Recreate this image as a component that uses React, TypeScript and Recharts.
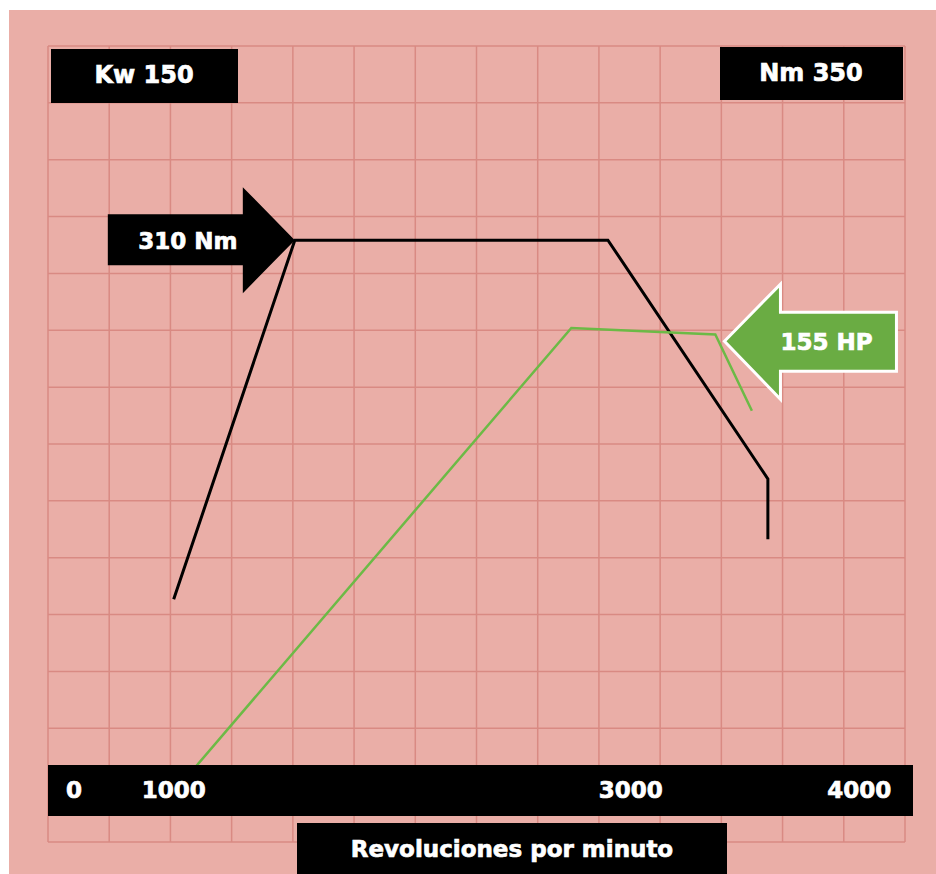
import React from 'react';
import {
  LineChart,
  Line,
  XAxis,
  YAxis,
  CartesianGrid,
  ReferenceDot,
} from 'recharts';

// axis ranges (rpm along the bottom, torque and power up the sides)
const rpmDomain = [450, 4200];
const torqueDomain = [0, 410];
const powerDomain = [0, 240];

// torque curve (Nm)
const torqueRpm = [1000, 1530, 2900, 3600, 3600];
const torqueNm = [125, 310, 310, 187, 156];

// power curve (HP)
const powerRpm = [1100, 2740, 3370, 3530];
const powerHp = [23, 155, 153, 130];

const rpmTicks = [1000, 3000, 4000];
const zeroLabel = '0';
const peakTorque = { rpm: 1530, value: 310, label: '310 Nm' };
const peakPower = { rpm: 3410, value: 151, label: '155 HP' };

const torqueData = torqueRpm.map((rpm, i) => ({ rpm, torque: torqueNm[i] }));
const powerData = powerRpm.map((rpm, i) => ({ rpm, power: powerHp[i] }));

const FONT = '"DejaVu Sans", Verdana, sans-serif';
const PINK = '#eaaea7';
const GRID = '#d98a83';

const W = 936;
const H = 874;
const AXIS_H = 30;
const margin = { top: 46, right: 31, bottom: 32 - AXIS_H, left: 48 };

const txt = {
  fill: '#fff',
  fontFamily: FONT,
  fontWeight: 'bold' as const,
  fontSize: 23,
  stroke: '#fff',
  strokeWidth: 0.7,
  textAnchor: 'middle' as const,
};

// the black band behind the rpm labels is drawn with the first tick,
// so the labels land on top of it
const RpmTick = (props: any) => (
  <g>
    {props.index === 0 && (
      <g>
        <rect x={48} y={765} width={865} height={51} fill="#000" />
        <text x={74} y={798} {...txt}>{zeroLabel}</text>
      </g>
    )}
    <text x={props.x} y={798} {...txt}>
      {props.payload.value}
    </text>
  </g>
);

// black arrow pointing right, tip on the torque peak
const TorqueArrow = ({ cx, cy }: any) => (
  <g>
    <polygon
      points={`${cx - 187},${cy - 26} ${cx - 52},${cy - 26} ${cx - 52},${cy - 53} ${cx},${cy} ${cx - 52},${cy + 53} ${cx - 52},${cy + 25} ${cx - 187},${cy + 25}`}
      fill="#000"
    />
    <text x={cx - 107} y={cy + 9} {...txt}>
      {peakTorque.label}
    </text>
  </g>
);

// green arrow pointing left at the power plateau
const PowerArrow = ({ cx, cy }: any) => (
  <g>
    <polygon
      points={`${cx},${cy} ${cx + 56},${cy - 57} ${cx + 56},${cy - 29} ${cx + 172},${cy - 29} ${cx + 172},${cy + 30} ${cx + 56},${cy + 30} ${cx + 56},${cy + 58}`}
      fill="#6aac43"
      stroke="#fff"
      strokeWidth={3}
    />
    <text x={cx + 102} y={cy + 9} {...txt}>
      {peakPower.label}
    </text>
  </g>
);

const LabelBox = ({ x, y, w, h, text, tx, ty, size = 23 }: any) => (
  <g>
    <rect x={x} y={y} width={w} height={h} fill="#000" />
    <text x={tx} y={ty} {...txt} fontSize={size}>
      {text}
    </text>
  </g>
);

export default function App() {
  return (
    <div style={{ position: 'absolute', left: 0, top: 0, width: W, height: H, background: '#fff' }}>
      <div style={{ position: 'absolute', left: 9, top: 10, width: W - 9, height: H - 10, background: PINK }} />
      <div style={{ position: 'absolute', left: 0, top: 0 }}>
        <LineChart width={W} height={H} margin={margin}>
          <CartesianGrid
            stroke={GRID}
            strokeWidth={1.5}
            verticalCoordinatesGenerator={({ offset }: any) =>
              Array.from({ length: 15 }, (_, i) => offset.left + (i * offset.width) / 14)
            }
            horizontalCoordinatesGenerator={({ offset }: any) =>
              Array.from({ length: 15 }, (_, i) => offset.top + (i * offset.height) / 14)
            }
          />
          <YAxis yAxisId="power" type="number" domain={powerDomain} hide />
          <YAxis yAxisId="torque" type="number" domain={torqueDomain} orientation="right" hide />
          <Line
            yAxisId="torque"
            data={torqueData}
            dataKey="torque"
            stroke="#000"
            strokeWidth={3}
            dot={false}
            isAnimationActive={false}
          />
          <Line
            yAxisId="power"
            data={powerData}
            dataKey="power"
            stroke="#6cba46"
            strokeWidth={2.5}
            dot={false}
            isAnimationActive={false}
          />
          <LabelBox x={51} y={49} w={187} h={54} text="Kw 150" tx={144} ty={83} size={24} />
          <LabelBox x={720} y={47} w={183} h={53} text="Nm 350" tx={811} ty={81} size={24} />
          <LabelBox x={297} y={823} w={430} h={51} text="Revoluciones por minuto" tx={512} ty={857} />
          <XAxis
            dataKey="rpm"
            type="number"
            domain={rpmDomain}
            allowDataOverflow
            ticks={rpmTicks}
            interval={0}
            height={AXIS_H}
            axisLine={false}
            tickLine={false}
            tick={RpmTick}
          />
          <ReferenceDot
            yAxisId="torque"
            x={peakTorque.rpm}
            y={peakTorque.value}
            r={0}
            shape={(p: any) => <TorqueArrow cx={p.cx} cy={p.cy} />}
          />
          <ReferenceDot
            yAxisId="power"
            x={peakPower.rpm}
            y={peakPower.value}
            r={0}
            shape={(p: any) => <PowerArrow cx={p.cx} cy={p.cy} />}
          />
        </LineChart>
      </div>
    </div>
  );
}
